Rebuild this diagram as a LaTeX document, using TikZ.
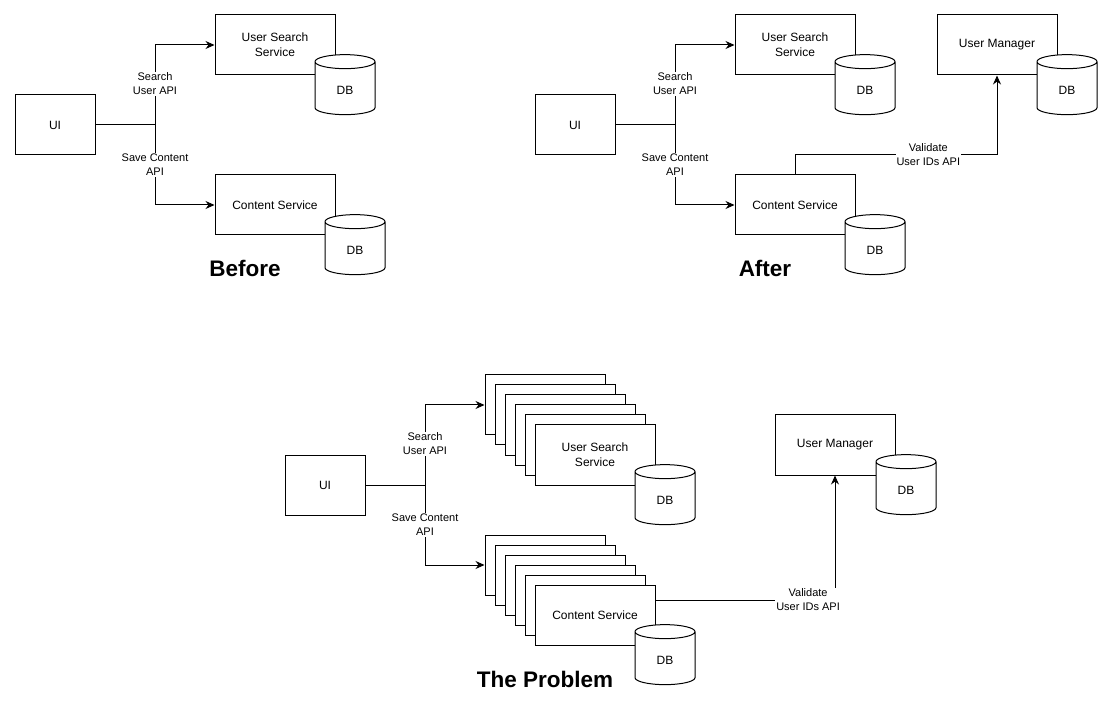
\documentclass[tikz,border=0pt]{standalone}
\usepackage{fontspec}
\setmainfont{Liberation Sans}
\usetikzlibrary{shapes.geometric, arrows.meta, positioning}

\begin{document}
\begin{tikzpicture}[
          x=1pt, y=-1pt, line width=1pt,
          svc/.style={rectangle, draw, fill=white, minimum width=120pt, minimum height=60pt, align=center, font=\fontsize{12}{15}\selectfont},
          db/.style={cylinder, shape border rotate=90, aspect=0.6, draw, fill=white, minimum width=60pt, minimum height=60pt, font=\fontsize{12}{15}\selectfont},
          lbl/.style={fill=white, inner sep=1pt, align=center, font=\fontsize{11}{14}\selectfont},
          heading/.style={anchor=base, font=\fontsize{22.5}{27}\selectfont\bfseries},
          flow/.style={-{Stealth[length=9pt, width=8pt]}}
        ]
          \useasboundingbox (0,0) rectangle (1112,711);

          % Before
          \node[svc, minimum width=80pt] (ui1) at (55,125) {UI};
          \node[svc] (us1) at (275,45) {User Search\\Service};
          \node[db] (db1) at (345,90) {DB};
          \node[svc] (cs1) at (275,205) {Content Service};
          \node[db] (db2) at (355,250) {DB};
          \coordinate (j1) at (155,125);
          \draw (ui1) -- (j1);
          \draw[flow] (j1) |- node[lbl, pos=0.256] {Search\\User API} (us1.west);
          \draw[flow] (j1) |- node[lbl, pos=0.25] {Save Content\\API} (cs1.west);
          \node[heading] (t1) at (245,277) {Before};

          % After
          \node[svc, minimum width=80pt] (ui2) at (575,125) {UI};
          \node[svc] (us2) at (795,45) {User Search\\Service};
          \node[db] (db3) at (865,90) {DB};
          \node[svc] (cs2) at (795,205) {Content Service};
          \node[db] (db4) at (875,250) {DB};
          \node[svc] (um2) at (997,45) {User Manager};
          \node[db] (db5) at (1067,90) {DB};
          \coordinate (j2) at (675,125);
          \draw (ui2) -- (j2);
          \draw[flow] (j2) |- node[lbl, pos=0.256] {Search\\User API} (us2.west);
          \draw[flow] (j2) |- node[lbl, pos=0.25] {Save Content\\API} (cs2.west);
          \draw[flow] (cs2.north) -- ++(0,-20) -| node[lbl, pos=0.33] {Validate\\User IDs API} (um2.south);
          \node[heading] (t2) at (765,277) {After};

          % The Problem
          \node[svc, minimum width=80pt] (ui3) at (325,485) {UI};
          \foreach \k in {0,...,4} {
            \node[svc] (usstack\k) at ({545+10*\k},{405+10*\k}) {};
          }
          \node[svc] (us3) at (595,455) {User Search\\Service};
          \node[db] (db6) at (665,500) {DB};
          \foreach \k in {0,...,4} {
            \node[svc] (csstack\k) at ({545+10*\k},{565+10*\k}) {};
          }
          \node[svc] (cs3) at (595,615) {Content Service};
          \node[db] (db7) at (665,660) {DB};
          \node[svc] (um3) at (835,445) {User Manager};
          \node[db] (db8) at (906,490) {DB};
          \coordinate (j3) at (425,485);
          \draw (ui3) -- (j3);
          \draw[flow] (j3) |- node[lbl, pos=0.256] {Search\\User API} (usstack0.west);
          \draw[flow] (j3) |- node[lbl, pos=0.25] {Save Content\\API} (csstack0.west);
          \draw[flow] ([yshift=15pt]cs3.east) -| node[lbl, pos=0.425] {Validate\\User IDs API} (um3.south);
          \node[heading] (t3) at (545,687) {The Problem};
        \end{tikzpicture}
\end{document}
